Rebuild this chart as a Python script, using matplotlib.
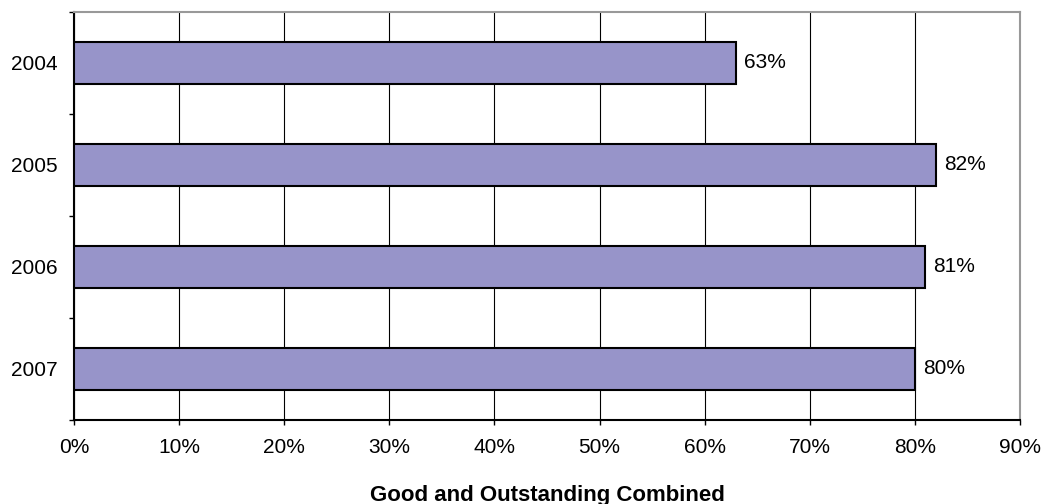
import matplotlib
matplotlib.use("Agg")
import matplotlib.pyplot as plt
from matplotlib.ticker import FixedLocator, FuncFormatter

years = ["2004", "2005", "2006", "2007"]
values = [63, 82, 81, 80]
x_ticks = [0, 10, 20, 30, 40, 50, 60, 70, 80, 90]
xlabel = "Good and Outstanding Combined"

plt.rcParams['font.family'] = ['Liberation Sans', 'DejaVu Sans']
FS = 15

fig = plt.figure(figsize=(10.44, 5.04), dpi=100)
ax = fig.add_axes([74/1044, 1 - 420/504, (1020-74)/1044, (420-12)/504])

pos = list(range(len(years)))
ax.barh(pos, values, height=0.41, color="#9794c9", edgecolor="black", linewidth=1.5, zorder=3)
for p, v in zip(pos, values):
    ax.text(v + 0.75, p, f"{v}%", va="center", ha="left", fontsize=FS, zorder=4)

ax.set_xlim(0, 90)
ax.set_ylim(len(years) - 0.5, -0.5)
ax.set_xticks(x_ticks)
ax.xaxis.set_major_formatter(FuncFormatter(lambda x, _: f"{int(x)}%"))
ax.grid(axis="x", color="black", linewidth=0.8, zorder=0)

ax.set_yticks(pos)
ax.set_yticklabels(years)
ax.tick_params(axis="y", which="major", length=0, pad=12, labelsize=FS)
ax.yaxis.set_minor_locator(FixedLocator([p - 0.5 for p in pos] + [len(years) - 0.5]))
ax.tick_params(axis="y", which="minor", length=3.6, width=1, color="black")
ax.tick_params(axis="x", length=3.6, width=1, color="black", pad=9.5, labelsize=FS)

for s in ["top", "right"]:
    ax.spines[s].set_color("#999999")
    ax.spines[s].set_linewidth(1.5)
for s in ["left", "bottom"]:
    ax.spines[s].set_color("black")
    ax.spines[s].set_linewidth(1.5)

ax.set_xlabel(xlabel, fontsize=16, fontweight="bold", labelpad=20)

fig.savefig("out.png", dpi=100, facecolor="white")
